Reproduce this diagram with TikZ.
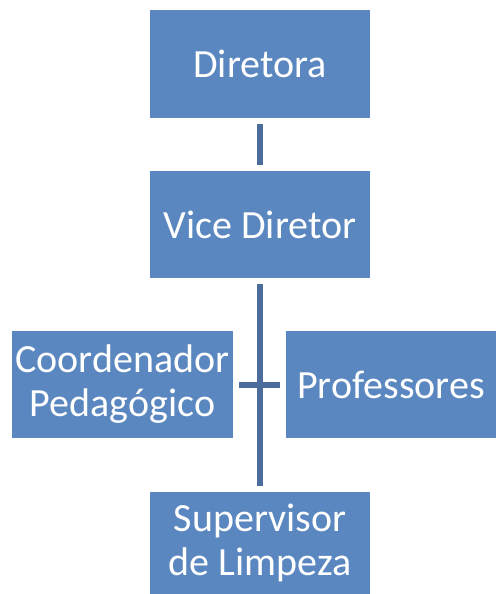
\documentclass[tikz,border=0pt]{standalone}
\usepackage{fontspec}
\setmainfont{Carlito}
\definecolor{boxBlue}{RGB}{91,135,192}
\definecolor{lineBlue}{RGB}{74,109,156}

\begin{document}
\begin{tikzpicture}
[x=1pt,y=-1pt,%
  lineDecorate/.style={-,line width=6pt,draw=lineBlue,shorten <=6pt,shorten >=6pt},%
  nodeDecorate/.style={shape=rectangle,fill=boxBlue,text=white,inner sep=0pt,
    align=center,font=\fontsize{40}{44}\selectfont}]
\useasboundingbox (0,0) rectangle (496,594);
%% nodes or boxes
\foreach \nodename/\x/\y/\w/\h/\txt in {
  dir/260/64/220/108/Diretora, vice/260/224.5/220/107/Vice Diretor,
  coord/122.5/384.5/221/107/Coordenador\\Pedag\'ogico,
  prof/391/384.5/210/107/Professores,
  limp/260/543/220/102/Supervisor\\de Limpeza}
{
  \node (\nodename) at (\x,\y) [nodeDecorate,minimum width=\w pt,minimum height=\h pt] {\txt};
}
%% edges or lines
\path
\foreach \startnode/\endnode in {dir/vice, vice/limp, coord/prof}
{
  (\startnode) edge[lineDecorate] (\endnode)
};
\end{tikzpicture}
\end{document}
